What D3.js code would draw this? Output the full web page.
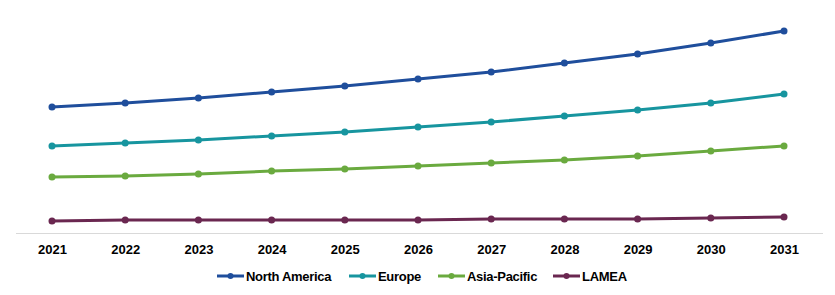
<!DOCTYPE html>
<html>
<head>
<meta charset="utf-8">
<script src="https://cdn.jsdelivr.net/npm/d3@7"></script>
<style>
  body { margin: 0; background: #fff; }
  svg text { font-family: "Liberation Sans Narrow", "Arial Narrow", "Liberation Sans", sans-serif; font-weight: bold; fill: #000; }
</style>
</head>
<body>
<div class="canvas"></div>
<script>
const years = ['2021', '2022', '2023', '2024', '2025', '2026', '2027', '2028', '2029', '2030', '2031'];
const seriesNames = ['North America', 'Europe', 'Asia-Pacific', 'LAMEA'];
const northAmerica = [12.6, 13.0, 13.5, 14.1, 14.7, 15.4, 16.1, 17.0, 17.9, 19.0, 20.2];
const europe = [8.7, 9.0, 9.3, 9.7, 10.1, 10.6, 11.1, 11.7, 12.3, 13.0, 13.9];
const asiaPacific = [5.6, 5.7, 5.9, 6.2, 6.4, 6.7, 7.0, 7.3, 7.7, 8.2, 8.7];
const lamea = [1.2, 1.3, 1.3, 1.3, 1.3, 1.3, 1.4, 1.4, 1.4, 1.5, 1.6];
const seriesColours = ['#1f4e9c', '#17959f', '#6aaa3f', '#6a2750'];

const dims = {
    width: 835,
    height: 295,
    axisY: 233,
    axisLeft: 16,
    axisRight: 823
};

const series = seriesNames.map((name, i) => ({
    name: name,
    colour: seriesColours[i],
    values: [northAmerica, europe, asiaPacific, lamea][i]
}));

const svg = d3.select('.canvas')
    .append('svg')
    .attr('width', dims.width)
    .attr('height', dims.height);

const x = d3.scalePoint()
    .domain(years)
    .range([52, 784]);

const y = d3.scaleLinear()
    .domain([0, 22])
    .range([dims.axisY, 13]);

// x axis baseline
svg.append('line')
    .attr('x1', dims.axisLeft)
    .attr('x2', dims.axisRight)
    .attr('y1', dims.axisY + 0.5)
    .attr('y2', dims.axisY + 0.5)
    .attr('stroke', '#d9d9d9')
    .attr('stroke-width', 1);

const xAxis = d3.axisBottom(x).tickSize(0).tickPadding(0);
const axisGroup = svg.append('g')
    .attr('transform', `translate(0, ${dims.axisY})`)
    .call(xAxis);
axisGroup.select('.domain').remove();
axisGroup.selectAll('text')
    .attr('dy', null)
    .attr('y', 21)
    .style('font-size', '13px');

const line = d3.line()
    .x((d, i) => x(years[i]))
    .y(d => y(d));

const seriesGroups = svg.selectAll('.series')
    .data(series)
    .enter()
    .append('g')
    .attr('class', 'series');

seriesGroups.append('path')
    .attr('fill', 'none')
    .attr('stroke', d => d.colour)
    .attr('stroke-width', 3)
    .attr('d', d => line(d.values));

seriesGroups.selectAll('circle')
    .data(d => d.values.map(v => ({ v: v, colour: d.colour })))
    .enter()
    .append('circle')
    .attr('cx', (d, i) => x(years[i]))
    .attr('cy', d => y(d.v))
    .attr('r', 3.5)
    .attr('fill', d => d.colour);

// legend
const legendX = [217, 349, 438, 553];
const legend = svg.append('g')
    .attr('transform', 'translate(0, 276)');

const items = legend.selectAll('g')
    .data(series)
    .enter()
    .append('g')
    .attr('transform', (d, i) => `translate(${legendX[i]}, 0)`);

items.append('line')
    .attr('x1', 0)
    .attr('x2', 27)
    .attr('stroke', d => d.colour)
    .attr('stroke-width', 3);

items.append('circle')
    .attr('cx', 13.5)
    .attr('r', 3)
    .attr('fill', d => d.colour);

items.append('text')
    .attr('x', 29)
    .attr('dy', '0.35em')
    .style('font-size', '13px')
    .style('letter-spacing', '-0.3px')
    .text(d => d.name);
</script>
</body>
</html>
